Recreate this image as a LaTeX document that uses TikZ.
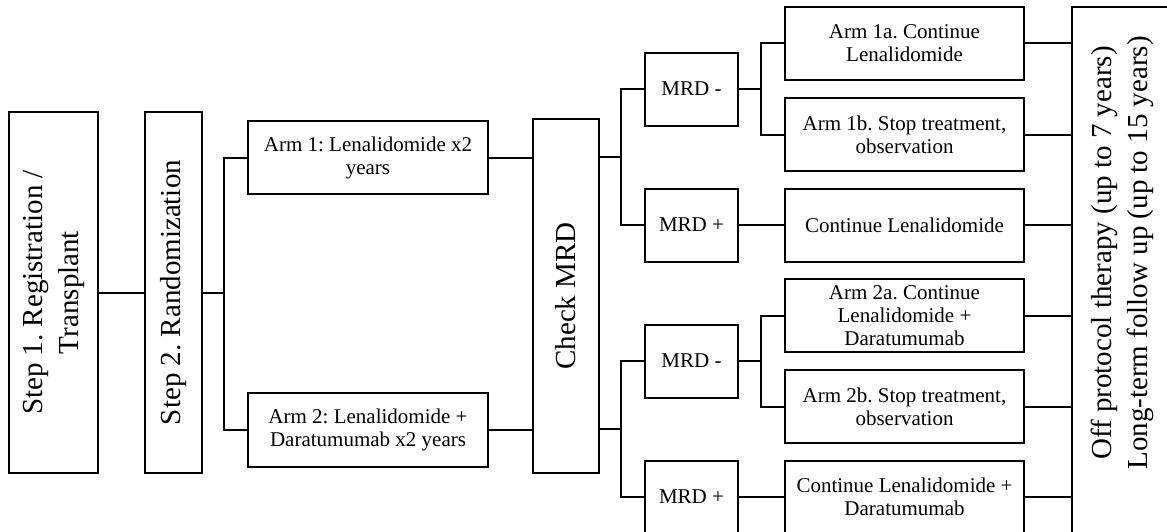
\documentclass[tikz,border=0pt]{standalone}
\usepackage{fontspec}
\setmainfont{Liberation Serif}
\usepackage{tikz}
\usetikzlibrary{positioning,calc}
\frenchspacing

\newcommand{\bigtxt}{\fontsize{14.5}{18}\selectfont}

\begin{document}
\begin{tikzpicture}[x=0.5pt, y=-0.5pt, line width=1pt,
    box/.style={draw, inner sep=1pt, align=center, font=\fontsize{10.5}{11.5}\selectfont},
    armbox/.style={box, minimum width=119.5pt, minimum height=36.5pt},
    mrdbox/.style={box, minimum width=46.5pt, minimum height=36.5pt}]
    \clip (0,0) rectangle (1167,531);
    % steps and arms
    \node[box, minimum width=44.5pt, minimum height=180.5pt] (step1) at (53.5,292.5)
      {\rotatebox{90}{\bigtxt\begin{tabular}{@{}c@{}}Step 1. Registration /\\Transplant\end{tabular}}};
    \node[box, minimum width=28.5pt, minimum height=180.5pt] (step2) at (173.5,292.5)
      {\rotatebox{90}{\bigtxt Step 2. Randomization}};
    \node[box, minimum width=120pt, minimum height=36.5pt] (arm1) at (368,157.5) {Arm 1: Lenalidomide x2\\years};
    \node[box, minimum width=120pt, minimum height=37pt] (arm2) at (368,430) {Arm 2: Lenalidomide +\\Daratumumab x2 years};
    \node[box, minimum width=33pt, minimum height=177pt] (check) at (566,296)
      {\rotatebox{90}{\bigtxt Check MRD}};
    % MRD result boxes
    \node[mrdbox] (mrdneg1) at (691.5,89) {MRD -};
    \node[mrdbox] (mrdpos1) at (691.5,225) {MRD +};
    \node[mrdbox] (mrdneg2) at (691.5,361) {MRD -};
    \node[mrdbox] (mrdpos2) at (691.5,497) {MRD +};
    \node[armbox] (arm1a) at (904.5,43) {Arm 1a. Continue\\Lenalidomide};
    \node[armbox] (arm1b) at (904.5,134.5) {Arm 1b. Stop treatment,\\observation};
    \node[armbox] (cont1) at (904.5,225) {Continue Lenalidomide};
    \node[armbox] (arm2a) at (904.5,315.5) {Arm 2a. Continue\\Lenalidomide +\\Daratumumab};
    \node[armbox] (arm2b) at (904.5,406.5) {Arm 2b. Stop treatment,\\observation};
    \node[armbox] (cont2) at (904.5,497) {Continue Lenalidomide +\\Daratumumab};
    \node[box, minimum width=50pt, minimum height=264pt] (offprot) at (1122,271)
      {\rotatebox{90}{\bigtxt\hspace*{18pt}\begin{tabular}{@{}c@{}}Off protocol therapy (up to 7 years)\\Long-term follow up (up to 15 years)\end{tabular}}};
    % junctions
    \coordinate (jrand) at (224,293);
    \coordinate (jchk1) at (621,157);
    \coordinate (jchk2) at (621,429);
    \coordinate (jmrd1) at (761,89);
    \coordinate (jmrd2) at (761,361);
    % connectors
    \draw (step1) -- (step2);
    \draw (step2.east |- jrand) -- (jrand);
    \draw (arm1.west) -| (jrand) |- (arm2.west);
    \draw (arm1.east) -- (arm1.east -| check.west);
    \draw (arm2.east) -- (arm2.east -| check.west);
    \draw (check.east |- jchk1) -- (jchk1);
    \draw (mrdneg1.west) -| (jchk1) |- (mrdpos1.west);
    \draw (check.east |- jchk2) -- (jchk2);
    \draw (mrdneg2.west) -| (jchk2) |- (mrdpos2.west);
    \draw (mrdneg1.east) -- (jmrd1);
    \draw (arm1a.west) -| (jmrd1) |- (arm1b.west);
    \draw (mrdpos1.east) -- (mrdpos1.east -| cont1.west);
    \draw (mrdneg2.east) -- (jmrd2);
    \draw (arm2a.west) -| (jmrd2) |- (arm2b.west);
    \draw (mrdpos2.east) -- (mrdpos2.east -| cont2.west);
    \foreach \a in {arm1a,arm1b,cont1,arm2a,arm2b,cont2}
      \draw (\a.east) -- (\a.east -| offprot.west);
  \end{tikzpicture}
\end{document}
